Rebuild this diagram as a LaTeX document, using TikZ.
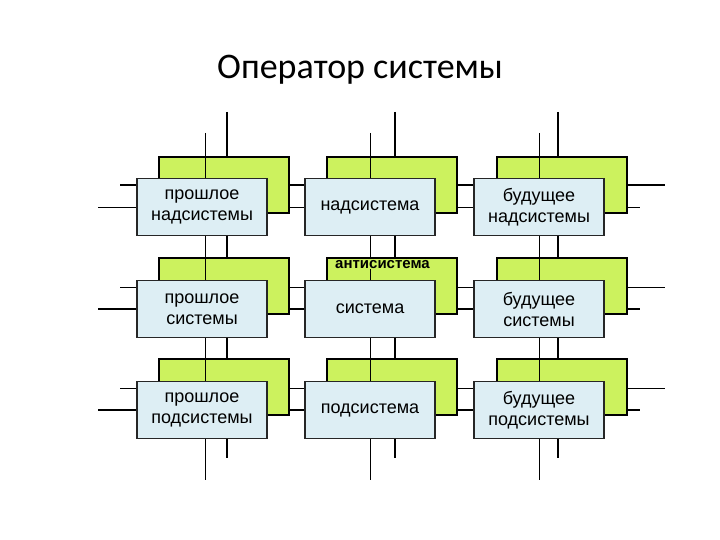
\documentclass[tikz,border=0pt]{standalone}
\usepackage{fontspec}
\setmainfont{Liberation Sans}
\newfontfamily\titlefont{Carlito}
\definecolor{gfill}{HTML}{CCF25E}
\definecolor{bfill}{HTML}{DDEEF4}
\begin{document}
\begin{tikzpicture}[x=1pt,y=-1pt,
  thick line/.style={line width=2pt},
  thin line/.style={line width=1pt},
  green/.style={draw=black,line width=2pt,fill=gfill,minimum width=130pt,minimum height=56pt,inner sep=0pt},
  blue/.style={draw=black!85,line width=1.5pt,fill=bfill,minimum width=130pt,minimum height=57pt,align=center,font=\fontsize{18}{21}\selectfont,inner sep=0pt}]
\useasboundingbox (0,0) rectangle (720,540);
\node[font=\titlefont\fontsize{36}{40}\selectfont] (title) at (360,70) {Оператор системы};
% horizontal lines
\draw[thick line] (120,185) -- (665,185);
\draw[thin line] (98,208) -- (640,208);
\draw[thin line] (120,287) -- (665,287);
\draw[thick line] (98,309) -- (640,309);
\draw[thin line] (120,388) -- (665,388);
\draw[thick line] (98,410) -- (640,410);
% vertical thick
\foreach \x in {227,395,558} \draw[thick line] (\x,112) -- (\x,458);
% green boxes
\foreach \c/\gx in {1/224,2/392,3/562}
  \foreach \r/\gy in {1/185,2/286,3/387}
    \node[green] (g\c\r) at (\gx,\gy) {};
% vertical thin
\foreach \x in {205,370,539} \draw[thin line] (\x,133) -- (\x,480);
\node[font=\bfseries\fontsize{15}{17}\selectfont,anchor=north west,inner sep=1pt,fill=gfill] (anti) at (334,259) {антисистема};
% blue boxes
\node[blue] (b11) at (202,207) {прошлое\\надсистемы};
\node[blue] (b21) at (370,207) {надсистема};
\node[blue] (b31) at (539,207) {будущее\\надсистемы};
\node[blue] (b12) at (202,309) {прошлое\\системы};
\node[blue] (b22) at (370,309) {система};
\node[blue] (b32) at (539,309) {будущее\\системы};
\node[blue] (b13) at (202,410) {прошлое\\подсистемы};
\node[blue] (b23) at (370,410) {подсистема};
\node[blue] (b33) at (539,410) {будущее\\подсистемы};
\end{tikzpicture}
\end{document}
